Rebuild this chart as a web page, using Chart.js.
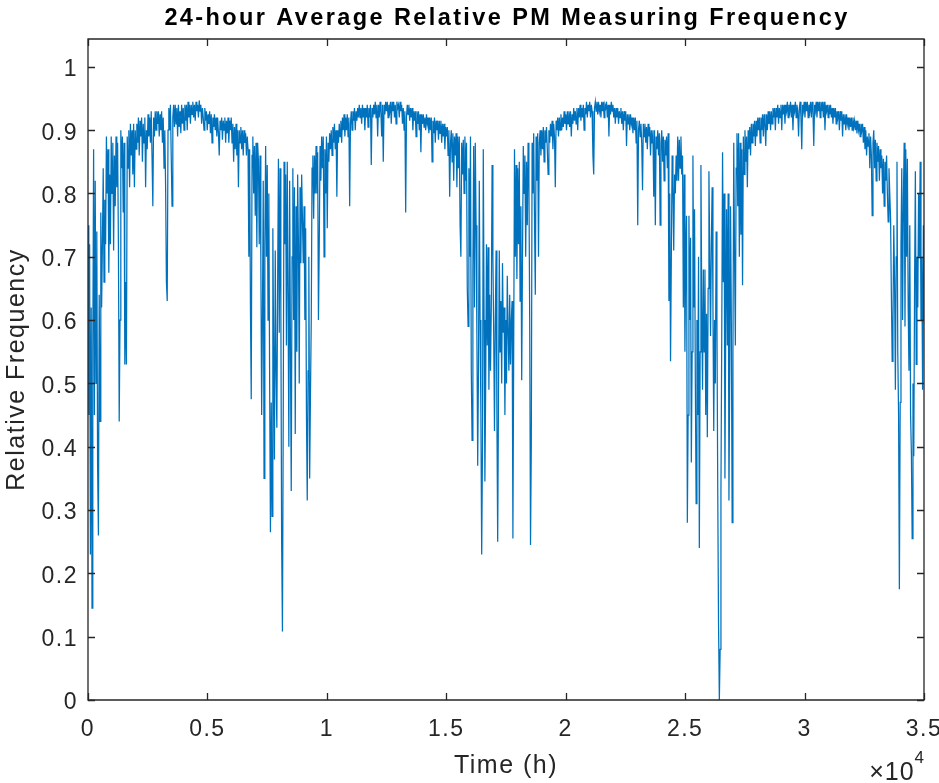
<!DOCTYPE html>
<html><head><meta charset="utf-8">
<script src="https://cdn.jsdelivr.net/npm/chart.js@4/dist/chart.umd.min.js"></script>
<style>html,body{margin:0;padding:0;background:#fff;overflow:hidden}#wrap{width:939px;height:783px}</style>
</head><body><div id="wrap"><canvas id="c" width="939" height="783"></canvas></div>
<script>
const chartTitle = '24-hour Average Relative PM Measuring Frequency';
const xAxisTitle = 'Time (h)';
const yAxisTitle = 'Relative Frequency';
const xExponentBase = '\u00d710';
const xExponentPower = '4';
const xTickValues = [0,5000,10000,15000,20000,25000,30000,35000];
const xTickLabels = ['0','0.5','1','1.5','2','2.5','3','3.5'];
const yTickValues = [0,0.1,0.2,0.3,0.4,0.5,0.6,0.7,0.8,0.9,1];
const yTickLabels = ['0','0.1','0.2','0.3','0.4','0.5','0.6','0.7','0.8','0.9','1'];

const timeHours = [
0,34,67,101,134,168,201,235,268,302,335,369,402,436,469,503,536,570,603,637,
670,704,737,771,804,838,871,905,938,972,1005,1039,1072,1106,1139,1173,1206,1240,1273,1307,
1340,1374,1407,1441,1474,1508,1541,1575,1608,1642,1675,1709,1742,1776,1809,1843,1876,1910,1943,1977,
2010,2044,2077,2111,2144,2178,2211,2245,2278,2312,2345,2379,2412,2446,2479,2513,2546,2580,2613,2647,
2680,2714,2747,2781,2814,2848,2881,2915,2948,2982,3015,3049,3082,3116,3149,3183,3216,3250,3283,3317,
3350,3384,3417,3451,3484,3518,3551,3585,3618,3652,3685,3719,3752,3786,3819,3853,3886,3920,3953,3987,
4020,4054,4087,4121,4154,4188,4221,4255,4288,4322,4355,4389,4422,4456,4489,4523,4556,4590,4623,4657,
4690,4724,4757,4791,4824,4858,4891,4925,4958,4992,5025,5059,5092,5126,5159,5193,5226,5260,5293,5327,
5360,5394,5427,5461,5494,5528,5561,5595,5628,5662,5695,5729,5762,5796,5829,5863,5896,5930,5963,5997,
6030,6064,6097,6131,6164,6198,6231,6265,6298,6332,6365,6399,6432,6466,6499,6533,6566,6600,6633,6667,
6700,6734,6767,6801,6834,6868,6901,6935,6968,7002,7035,7069,7102,7136,7169,7203,7236,7270,7303,7337,
7370,7404,7437,7471,7504,7538,7571,7605,7638,7672,7705,7739,7772,7806,7839,7873,7906,7940,7973,8007,
8040,8074,8107,8141,8174,8208,8241,8275,8308,8342,8375,8409,8442,8476,8509,8543,8576,8610,8643,8677,
8710,8744,8777,8811,8844,8878,8911,8945,8978,9012,9045,9079,9112,9146,9179,9213,9246,9280,9313,9347,
9380,9414,9447,9481,9514,9548,9581,9615,9648,9682,9715,9749,9782,9816,9849,9883,9916,9950,9983,10017,
10050,10084,10117,10151,10184,10218,10251,10285,10318,10352,10385,10419,10452,10486,10519,10553,10586,10620,10653,10687,
10720,10754,10787,10821,10854,10888,10921,10955,10988,11022,11055,11089,11122,11156,11189,11223,11256,11290,11323,11357,
11390,11424,11457,11491,11524,11558,11591,11625,11658,11692,11725,11759,11792,11826,11859,11893,11926,11960,11993,12027,
12060,12094,12127,12161,12194,12228,12261,12295,12328,12362,12395,12429,12462,12496,12529,12563,12596,12630,12663,12697,
12730,12764,12797,12831,12864,12898,12931,12965,12998,13032,13065,13099,13132,13166,13199,13233,13266,13300,13333,13367,
13400,13434,13467,13501,13534,13568,13601,13635,13668,13702,13735,13769,13802,13836,13869,13903,13936,13970,14003,14037,
14070,14104,14137,14171,14204,14238,14271,14305,14338,14372,14405,14439,14472,14506,14539,14573,14606,14640,14673,14707,
14740,14774,14807,14841,14874,14908,14941,14975,15008,15042,15075,15109,15142,15176,15209,15243,15276,15310,15343,15377,
15410,15444,15477,15511,15544,15578,15611,15645,15678,15712,15745,15779,15812,15846,15879,15913,15946,15980,16013,16047,
16080,16114,16147,16181,16214,16248,16281,16315,16348,16382,16415,16449,16482,16516,16549,16583,16616,16650,16683,16717,
16750,16784,16817,16851,16884,16918,16951,16985,17018,17052,17085,17119,17152,17186,17219,17253,17286,17320,17353,17387,
17420,17454,17487,17521,17554,17588,17621,17655,17688,17722,17755,17789,17822,17856,17889,17923,17956,17990,18023,18057,
18090,18124,18157,18191,18224,18258,18291,18325,18358,18392,18425,18459,18492,18526,18559,18593,18626,18660,18693,18727,
18760,18794,18827,18861,18894,18928,18961,18995,19028,19062,19095,19129,19162,19196,19229,19263,19296,19330,19363,19397,
19430,19464,19497,19531,19564,19598,19631,19665,19698,19732,19765,19799,19832,19866,19899,19933,19966,20000,20033,20067,
20100,20134,20167,20201,20234,20268,20301,20335,20368,20402,20435,20469,20502,20536,20569,20603,20636,20670,20703,20737,
20770,20804,20837,20871,20904,20938,20971,21005,21038,21072,21105,21139,21172,21206,21239,21273,21306,21340,21373,21407,
21440,21474,21507,21541,21574,21608,21641,21675,21708,21742,21775,21809,21842,21876,21909,21943,21976,22010,22043,22077,
22110,22144,22177,22211,22244,22278,22311,22345,22378,22412,22445,22479,22512,22546,22579,22613,22646,22680,22713,22747,
22780,22814,22847,22881,22914,22948,22981,23015,23048,23082,23115,23149,23182,23216,23249,23283,23316,23350,23383,23417,
23450,23484,23517,23551,23584,23618,23651,23685,23718,23752,23785,23819,23852,23886,23919,23953,23986,24020,24053,24087,
24120,24154,24187,24221,24254,24288,24321,24355,24388,24422,24455,24489,24522,24556,24589,24623,24656,24690,24723,24757,
24790,24824,24857,24891,24924,24958,24991,25025,25058,25092,25125,25159,25192,25226,25259,25293,25326,25360,25393,25427,
25460,25494,25527,25561,25594,25628,25661,25695,25728,25762,25795,25829,25862,25896,25929,25963,25996,26030,26063,26097,
26130,26164,26197,26231,26264,26298,26331,26365,26398,26432,26465,26499,26532,26566,26599,26633,26666,26700,26733,26767,
26800,26834,26867,26901,26934,26968,27001,27035,27068,27102,27135,27169,27202,27236,27269,27303,27336,27370,27403,27437,
27470,27504,27537,27571,27604,27638,27671,27705,27738,27772,27805,27839,27872,27906,27939,27973,28006,28040,28073,28107,
28140,28174,28207,28241,28274,28308,28341,28375,28408,28442,28475,28509,28542,28576,28609,28643,28676,28710,28743,28777,
28810,28844,28877,28911,28944,28978,29011,29045,29078,29112,29145,29179,29212,29246,29279,29313,29346,29380,29413,29447,
29480,29514,29547,29581,29614,29648,29681,29715,29748,29782,29815,29849,29882,29916,29949,29983,30016,30050,30083,30117,
30150,30184,30217,30251,30284,30318,30351,30385,30418,30452,30485,30519,30552,30586,30619,30653,30686,30720,30753,30787,
30820,30854,30887,30921,30954,30988,31021,31055,31088,31122,31155,31189,31222,31256,31289,31323,31356,31390,31423,31457,
31490,31524,31557,31591,31624,31658,31691,31725,31758,31792,31825,31859,31892,31926,31959,31993,32026,32060,32093,32127,
32160,32194,32227,32261,32294,32328,32361,32395,32428,32462,32495,32529,32562,32596,32629,32663,32696,32730,32763,32797,
32830,32864,32897,32931,32964,32998,33031,33065,33098,33132,33165,33199,33232,33266,33299,33333,33366,33400,33433,33467,
33500,33534,33567,33601,33634,33668,33701,33735,33768,33802,33835,33869,33902,33936,33969,34003,34036,34070,34103,34137,
34170,34204,34237,34271,34304,34338,34371,34405,34438,34472,34505,34539,34572,34606,34639,34673,34706,34740,34773,34807,
34840,34874,34907,34941,34974,35008
];

const relFreq = [
0.75,0.45,0.72,0.23,0.62,0.145,0.55,0.87,0.45,0.82,0.50,0.74,0.37,0.26,0.64,0.44,
0.77,0.62,0.72,0.84,0.66,0.79,0.72,0.89,0.80,0.87,0.675,0.83,0.72,0.89,0.80,0.88,0.71,0.86,0.78,0.89,0.81,0.88,0.72,
0.44,0.60,
0.90,0.84,0.89,0.77,0.88,0.53,0.66,0.53,0.89,0.84,0.90,0.81,0.91,
0.86,0.90,0.83,0.91,0.81,0.90,0.87,0.91,0.88,0.92,0.86,0.915,0.89,0.92,0.85,0.91,0.88,0.92,0.81,0.90,0.87,0.925,0.89,0.92,0.88,0.93,0.86,0.78,0.92,0.89,0.93,0.90,0.93,0.91,0.93,0.89,0.925,0.90,0.93,0.88,0.92,0.84,0.90,0.81,0.66,0.63,0.90,0.935,0.90,0.94,0.86,0.78,0.92,0.94,0.905,0.94,0.91,0.935,0.89,0.94,0.905,0.93,0.895,0.94,0.91,0.935,0.90,0.94,0.915,0.94,0.90,0.945,0.92,0.94,0.91,0.94,0.925,0.945,0.92,0.94,0.915,0.945,0.93,0.94,0.92,0.947,0.93,0.94,0.91,0.935,0.92,0.90,0.935,0.915,0.93,0.90,0.925,0.91,0.93,0.895,0.925,0.88,0.92,0.905,0.925,0.90,0.92,0.89,0.92,0.895,0.86,0.915,0.90,0.92,0.885,0.915,0.90,0.92,0.88,0.915,0.895,0.92,0.88,0.915,
0.90,0.92,0.88,0.91,0.85,0.905,0.87,0.91,0.86,0.90,0.81,0.90,0.88,0.905,0.87,0.90,0.86,0.90,0.88,0.895,0.86,0.89,0.87,0.70,0.87,0.62,0.475,0.86,0.89,0.80,0.875,0.765,0.88,0.715,0.88,0.85,0.72,0.86,0.70,0.45,0.60,0.82,0.35,0.72,0.875,0.70,0.845,0.60,0.80,0.50,0.265,0.47,0.29,0.745,0.55,0.38,0.71,0.52,0.43,0.66,0.855,0.58,0.84,0.62,0.25,0.108,0.45,0.85,0.72,0.83,0.56,0.85,0.64,0.40,0.82,0.55,0.33,0.70,0.84,0.60,0.81,0.42,0.78,0.55,0.83,0.72,0.50,0.81,0.69,0.83,0.76,0.69,0.78,0.60,0.745,0.45,0.315,0.52,0.70,0.35,0.48,0.60,0.84,0.86,0.76,0.86,0.80,0.875,0.80,0.865,0.60,0.72,0.875,0.82,0.89,0.84,0.89,0.70,0.87,0.80,0.89,0.745,0.88,0.85,0.895,
0.87,0.90,0.86,0.905,0.88,0.91,0.87,0.90,0.795,0.90,0.88,0.91,0.89,0.915,0.88,0.92,0.90,0.925,0.89,0.92,0.90,0.925,0.89,0.92,0.78,0.91,0.93,0.90,0.93,0.915,0.935,0.90,0.93,0.915,0.935,0.92,0.94,0.92,0.935,0.91,0.94,0.92,0.935,0.90,0.935,0.92,0.94,0.905,0.935,0.92,0.94,0.845,0.935,0.92,0.94,0.925,0.945,0.92,0.94,0.89,0.94,0.92,0.945,0.93,0.89,0.94,0.85,0.94,0.925,0.945,0.93,0.945,0.92,0.94,0.93,0.945,0.91,0.945,0.93,0.945,0.92,0.94,0.91,0.945,0.935,0.94,0.92,0.945,0.93,0.94,0.91,0.935,0.90,0.93,0.77,0.92,0.94,0.925,0.94,0.915,0.935,0.92,0.935,0.90,0.93,0.915,0.93,0.89,0.93,0.91,0.93,0.90,0.925,0.865,0.925,0.91,0.925,0.905,0.92,0.90,0.925,0.91,0.92,0.895,0.92,0.90,0.92,0.85,0.915,0.895,0.92,0.88,0.915,0.90,0.915,0.885,0.915,0.895,0.915,0.88,0.91,0.89,0.91,0.87,0.905,0.89,0.905,0.86,0.90,0.795,0.88,0.90,0.85,0.895,0.82,0.89,0.86,0.895,0.81,0.89,0.84,0.89,0.75,0.70,0.88,0.83,0.885,0.80,0.89,0.82,
0.88,0.65,0.59,0.84,0.70,0.89,0.52,0.41,0.68,0.875,0.62,0.88,0.75,0.58,0.37,0.52,0.82,0.60,0.45,0.23,0.40,0.87,0.60,0.345,0.50,0.72,0.56,0.715,0.49,0.64,0.52,0.62,0.845,0.70,0.58,0.425,0.60,0.71,0.45,0.25,0.48,0.71,0.55,0.63,0.50,0.69,0.58,0.62,0.45,0.60,0.50,0.67,0.58,0.52,0.64,0.53,0.60,0.63,0.255,0.55,0.87,0.70,0.845,0.665,0.84,0.72,0.85,0.63,0.78,0.505,0.70,0.875,0.80,0.86,0.70,0.85,0.75,0.88,0.82,0.60,0.245,0.40,0.88,0.80,0.895,0.76,0.64,0.89,0.82,0.895,0.70,0.88,0.90,0.86,0.90,0.87,0.905,0.85,0.90,
0.88,0.905,0.87,0.83,0.90,0.88,0.91,0.89,0.915,0.87,0.91,0.89,0.81,0.915,0.90,0.92,0.89,0.92,0.90,0.925,0.90,0.92,0.905,0.93,0.91,0.925,0.90,0.93,0.91,0.93,0.905,0.93,0.89,0.925,0.91,0.935,0.915,0.93,0.91,0.935,0.90,0.935,0.92,0.94,0.915,0.935,0.92,0.94,0.90,0.935,0.925,0.945,0.92,0.94,0.93,0.945,0.92,0.94,0.93,0.86,0.83,0.935,0.945,0.93,0.945,0.925,0.945,0.93,0.94,0.92,0.945,0.93,0.945,0.92,0.94,0.935,0.945,0.92,0.94,0.89,0.94,0.925,0.945,0.93,0.94,0.92,0.935,0.91,0.935,0.92,0.935,0.91,0.93,0.92,0.935,0.91,0.93,0.90,0.93,0.915,0.93,0.875,0.925,0.91,0.925,0.90,0.925,0.91,0.92,0.895,0.92,0.90,0.92,0.88,0.915,0.75,0.90,0.915,0.89,0.91,0.88,0.805,0.91,0.89,0.91,0.88,0.905,0.87,0.91,0.89,0.905,0.86,0.90,0.88,0.90,0.795,0.90,0.75,0.89,0.87,0.90,0.86,0.895,0.75,0.88,0.90,0.85,0.89,0.82,0.885,0.86,0.89,0.84,0.895,0.63,0.80,0.535,0.70,0.86,0.815,0.71,0.83,0.80,0.86,0.82,0.89,0.82,0.885,0.84,
0.89,0.83,0.86,0.62,0.83,0.55,0.70,0.765,0.28,0.45,0.765,0.60,0.73,0.375,0.55,0.86,0.62,0.775,0.50,0.31,0.60,0.45,0.70,0.24,0.55,0.845,0.62,0.49,0.68,0.55,0.68,0.45,0.61,0.415,0.65,0.835,0.70,0.575,0.72,0.81,0.62,0.425,0.60,0.50,0.74,0.60,0.33,0.12,0.0,0.08,0.33,0.57,0.865,0.66,0.80,0.35,0.60,0.775,0.56,0.80,0.315,0.52,0.78,0.60,0.28,0.55,0.88,0.70,0.56,0.84,0.895,0.78,0.895,0.70,0.88,0.735,0.87,0.655,0.89,0.83,0.90,0.85,0.89,0.81,0.90,0.87,0.905,0.86,0.91,0.88,0.91,0.89,
0.915,0.875,0.915,0.89,0.92,0.90,0.92,0.88,0.92,0.90,0.925,0.89,0.925,0.91,0.875,0.925,0.90,0.93,0.91,0.93,0.90,0.93,0.91,0.935,0.92,0.935,0.90,0.935,0.92,0.94,0.91,0.935,0.92,0.94,0.90,0.94,0.925,0.94,0.91,0.94,0.93,0.945,0.92,0.94,0.93,0.945,0.92,0.94,0.90,0.94,0.93,0.945,0.92,0.94,0.93,0.89,0.935,0.945,0.92,0.87,0.94,0.93,0.945,0.92,0.945,0.93,0.945,0.92,0.94,0.93,0.945,0.92,0.945,0.93,0.875,0.94,0.93,0.945,0.92,0.945,0.93,0.945,0.92,0.945,0.93,0.945,0.92,0.945,0.90,0.94,0.93,0.94,0.92,0.94,0.925,0.94,0.92,0.935,0.91,0.935,0.92,0.935,0.91,0.93,0.92,0.93,0.90,0.93,0.915,0.93,0.89,0.925,0.91,0.925,0.90,0.925,0.91,0.92,0.90,0.92,0.905,0.92,0.90,0.92,0.905,0.915,0.90,0.915,0.895,0.915,0.90,0.91,0.89,0.91,0.90,0.91,0.88,0.905,0.87,0.90,0.86,0.89,0.875,0.895,0.84,0.89,0.86,0.765,0.88,0.90,0.84,0.885,0.82,0.88,0.85,0.875,0.82,0.87,0.84,0.86,0.80,0.855,0.78,0.85,0.82,
0.86,0.80,0.755,0.84,0.80,0.76,0.64,0.535,0.60,0.75,0.66,0.49,0.70,0.85,0.55,0.45,0.175,0.47,0.72,0.84,0.60,0.79,0.88,0.59,0.87,0.70,0.855,0.62,0.52,0.75,0.45,0.39,0.255,0.50,0.385,0.66,0.835,0.53,0.70,0.62,0.80,0.70,0.85,0.60,0.70,0.49,0.75,0.60
];

const nPts = Math.min(timeHours.length, relFreq.length);
const points = [];
for (let i = 0; i < nPts; i++) points.push({x: timeHours[i], y: relFreq[i]});

const FONT = "'Liberation Sans', Arial, Helvetica, sans-serif";
const AXIS_COLOR = '#262626';

const spacingPlugin = {
  id: 'spacing',
  beforeLayout(chart) { chart.ctx.letterSpacing = '1.5px'; },
  beforeDraw(chart) { chart.ctx.letterSpacing = '1.5px'; }
};

const framePlugin = {
  id: 'frame',
  afterDraw(chart) {
    const ctx = chart.ctx;
    const a = chart.chartArea;
    const xs = chart.scales.x, ys = chart.scales.y;
    ctx.save();
    ctx.strokeStyle = AXIS_COLOR;
    ctx.lineWidth = 1.3;
    ctx.beginPath();
    ctx.rect(a.left, a.top, a.right - a.left, a.bottom - a.top);
    ctx.stroke();
    const tl = 7;
    ctx.beginPath();
    xTickValues.forEach(v => {
      const px = Math.round(xs.getPixelForValue(v)) + 0.5;
      ctx.moveTo(px, a.bottom); ctx.lineTo(px, a.bottom - tl);
      ctx.moveTo(px, a.top); ctx.lineTo(px, a.top + tl);
    });
    yTickValues.forEach(v => {
      const py = Math.round(ys.getPixelForValue(v)) + 0.5;
      ctx.moveTo(a.left, py); ctx.lineTo(a.left + tl, py);
      ctx.moveTo(a.right, py); ctx.lineTo(a.right - tl, py);
    });
    ctx.stroke();
    // title
    ctx.fillStyle = '#000';
    ctx.font = 'bold 23.5px ' + FONT;
    ctx.letterSpacing = '2.4px';
    ctx.textAlign = 'center';
    ctx.textBaseline = 'alphabetic';
    ctx.fillText(chartTitle, (a.left + a.right) / 2 + 1, 25);
    // exponent label
    ctx.letterSpacing = '1px';
    ctx.fillStyle = AXIS_COLOR;
    ctx.textAlign = 'left';
    ctx.font = '17px ' + FONT;
    const pw = ctx.measureText(xExponentPower).width;
    ctx.font = '25px ' + FONT;
    const bw = ctx.measureText(xExponentBase).width;
    const x0 = a.right + 1 - pw - bw;
    ctx.fillText(xExponentBase, x0, 780);
    ctx.font = '17px ' + FONT;
    ctx.fillText(xExponentPower, x0 + bw, 763);
    ctx.restore();
  }
};

new Chart(document.getElementById('c'), {
  type: 'line',
  data: { datasets: [{
    data: points,
    borderColor: '#0072BD',
    borderWidth: 1.25,
    pointRadius: 0,
    tension: 0,
    fill: false
  }]},
  options: {
    responsive: false,
    devicePixelRatio: 1,
    animation: false,
    parsing: false,
    normalized: true,
    layout: { padding: { top: 39, right: 15, left: 0, bottom: 0 } },
    plugins: { legend: { display: false }, tooltip: { enabled: false }, title: { display: false } },
    scales: {
      x: {
        type: 'linear', min: 0, max: 35000,
        afterFit(s) { s.height = 83; s.paddingLeft = 0; s.paddingRight = 0; },
        afterBuildTicks(s) { s.ticks = xTickValues.map(v => ({ value: v })); },
        grid: { display: false, drawTicks: false },
        border: { display: false },
        ticks: {
          autoSkip: false, maxRotation: 0, padding: 16,
          color: AXIS_COLOR, font: { family: FONT, size: 23 },
          callback: (v, i) => xTickLabels[i]
        },
        title: { display: true, text: xAxisTitle, color: AXIS_COLOR,
                 font: { family: FONT, size: 25 }, padding: { top: 0, bottom: 2 } }
      },
      y: {
        type: 'linear', min: 0, max: 1.044,
        afterFit(s) { s.width = 88; s.paddingTop = 0; s.paddingBottom = 0; },
        afterBuildTicks(s) { s.ticks = yTickValues.map(v => ({ value: v })); },
        grid: { display: false, drawTicks: false },
        border: { display: false },
        ticks: {
          autoSkip: false, padding: 10, labelOffset: 3,
          color: AXIS_COLOR, font: { family: FONT, size: 23 },
          callback: (v, i) => yTickLabels[i]
        },
        title: { display: true, text: yAxisTitle, color: AXIS_COLOR,
                 font: { family: FONT, size: 25 }, padding: { top: 2, bottom: 0 } }
      }
    }
  },
  plugins: [spacingPlugin, framePlugin]
});
</script></body></html>
